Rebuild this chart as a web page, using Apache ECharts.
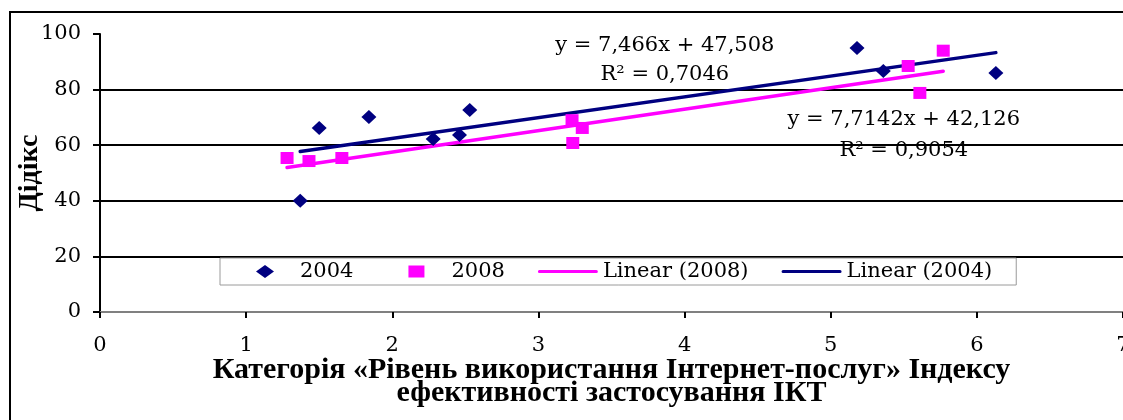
<!DOCTYPE html>
<html>
<head>
<meta charset="utf-8">
<script src="https://cdn.jsdelivr.net/npm/echarts@6/dist/echarts.min.js"></script>
<style>
html,body{margin:0;padding:0;background:#fff;}
#chart{width:1123px;height:420px;}
</style>
</head>
<body>
<div id="chart"></div>
<script>
// ---- data ----
const x2004 = [1.37, 1.50, 1.84, 2.28, 2.46, 2.53, 5.18, 5.36, 6.13];
const y2004 = [40, 66.2, 70.1, 62.2, 63.7, 72.7, 95, 86.7, 86];
const x2008 = [1.28, 1.43, 1.655, 3.23, 3.235, 3.30, 5.53, 5.61, 5.77];
const y2008 = [55.4, 54.3, 55.4, 69, 60.8, 66.2, 88.5, 78.8, 94];
const trendX2004 = [1.37, 6.13];
const trendY2004 = [57.7, 93.3];
const trendX2008 = [1.28, 5.77];
const trendY2008 = [52.0, 86.6];
const seriesNames = ['2004', '2008', 'Linear (2008)', 'Linear (2004)'];
const eq2004 = ['y = 7,466x + 47,508', 'R² = 0,7046'];
const eq2008 = ['y = 7,7142x + 42,126', 'R² = 0,9054'];
const xTicks = [0, 1, 2, 3, 4, 5, 6, 7];
const yTicks = [0, 20, 40, 60, 80, 100];
const xTitle = 'Категорія «Рівень використання Інтернет-послуг» Індексу\nефективності застосування ІКТ';
const yTitle = 'Дідікс';

const zip = (xs, ys) => xs.map((v, i) => [v, ys[i]]);
const NAVY = '#000080', MAG = '#FF00FF';
const SERIF = 'DejaVu Serif';
const TXT = {fontFamily: SERIF, fontSize: 21, color: '#000'};
// legend icons: invisible zero-width anchors at both ends keep the 60x13 box
const PAD = 'M0,6.5L0,6.51L0,6.5ZM60,6.5L60,6.51L60,6.5Z';
const ICON_DIAMOND = 'path://' + PAD + 'M21,6.5L30,0L39,6.5L30,13Z';
const ICON_SQUARE = 'path://' + PAD + 'M22,0.5L38,0.5L38,12.5L22,12.5Z';
const ICON_LINE = 'path://' + PAD + 'M1.5,5L58.5,5A1.5,1.5,0,0,1,58.5,8L1.5,8A1.5,1.5,0,0,1,1.5,5Z';

const chart = echarts.init(document.getElementById('chart'));
chart.setOption({
  animation: false,
  backgroundColor: '#fff',
  graphic: [{
    type: 'rect', z: -10, silent: true,
    shape: {x: 10, y: 12, width: 1200, height: 500},
    style: {fill: 'none', stroke: '#000', lineWidth: 2}
  }],
  grid: {left: 100, top: 34, right: 0, bottom: 108, containLabel: false, outerBoundsMode: 'none'},
  xAxis: [{
    type: 'value', min: xTicks[0], max: xTicks[xTicks.length - 1], interval: 1,
    axisLine: {show: true, onZero: false, lineStyle: {color: '#000', width: 2}},
    axisTick: {show: true, inside: false, length: 6, lineStyle: {color: '#000', width: 2}},
    axisLabel: Object.assign({margin: 23, hideOverlap: false, showMaxLabel: true}, TXT),
    splitLine: {show: false},
    name: xTitle, nameLocation: 'middle', nameGap: 47, nameMoveOverlap: false,
    nameTextStyle: {fontFamily: 'Liberation Serif', fontWeight: 'bold', fontSize: 30, lineHeight: 23, color: '#000'}
  }, {
    type: 'value', position: 'top', min: 0, max: 7,
    axisLine: {show: true, lineStyle: {color: '#808080', width: 2}},
    axisTick: {show: false}, axisLabel: {show: false}, splitLine: {show: false}
  }],
  yAxis: {
    type: 'value', min: yTicks[0], max: yTicks[yTicks.length - 1], interval: 20,
    axisLine: {show: true, lineStyle: {color: '#000', width: 2}},
    axisTick: {show: true, inside: false, length: 7, lineStyle: {color: '#000', width: 2}},
    axisLabel: Object.assign({margin: 19}, TXT),
    splitLine: {show: true, showMinLine: false, showMaxLine: false, lineStyle: {color: '#000', width: 2}},
    name: yTitle, nameLocation: 'middle', nameGap: 56, nameRotate: 90, nameMoveOverlap: false,
    nameTextStyle: {fontFamily: 'Liberation Serif', fontWeight: 'bold', fontSize: 28, color: '#000'}
  },
  legend: {
    left: 220, top: 258,
    orient: 'horizontal',
    padding: [3, 24, 3, 15],
    itemWidth: 60, itemHeight: 13, itemGap: 33,
    backgroundColor: '#fff', borderColor: '#9a9a9a', borderWidth: 1,
    textStyle: TXT,
    data: [
      {name: seriesNames[0], icon: ICON_DIAMOND},
      {name: seriesNames[1], icon: ICON_SQUARE},
      {name: seriesNames[2], icon: ICON_LINE},
      {name: seriesNames[3], icon: ICON_LINE}
    ]
  },
  series: [{
    name: seriesNames[0], type: 'scatter', symbol: 'diamond', symbolSize: [15, 14],
    itemStyle: {color: NAVY, opacity: 1}, data: zip(x2004, y2004), z: 3
  }, {
    name: seriesNames[1], type: 'scatter', symbol: 'rect', symbolSize: [13, 12],
    itemStyle: {color: MAG, opacity: 1}, data: zip(x2008, y2008), z: 3
  }, {
    name: seriesNames[2], type: 'line', symbol: 'none', showSymbol: false,
    lineStyle: {color: MAG, width: 3.5, cap: 'round'}, itemStyle: {color: MAG},
    data: zip(trendX2008, trendY2008), z: 2,
    markPoint: {
      symbol: 'circle', symbolSize: 0, silent: true,
      label: Object.assign({show: true, position: 'inside'}, TXT),
      data: [
        {coord: [5.50, 69.1], value: eq2008[0], label: {formatter: eq2008[0]}},
        {coord: [5.50, 57.9], value: eq2008[1], label: {formatter: eq2008[1]}}
      ]
    }
  }, {
    name: seriesNames[3], type: 'line', symbol: 'none', showSymbol: false,
    lineStyle: {color: NAVY, width: 3.5, cap: 'round'}, itemStyle: {color: NAVY},
    data: zip(trendX2004, trendY2004), z: 2,
    markPoint: {
      symbol: 'circle', symbolSize: 0, silent: true,
      label: Object.assign({show: true, position: 'inside'}, TXT),
      data: [
        {coord: [3.865, 96.0], value: eq2004[0], label: {formatter: eq2004[0]}},
        {coord: [3.865, 85.3], value: eq2004[1], label: {formatter: eq2004[1]}}
      ]
    }
  }]
});
</script>
</body>
</html>
